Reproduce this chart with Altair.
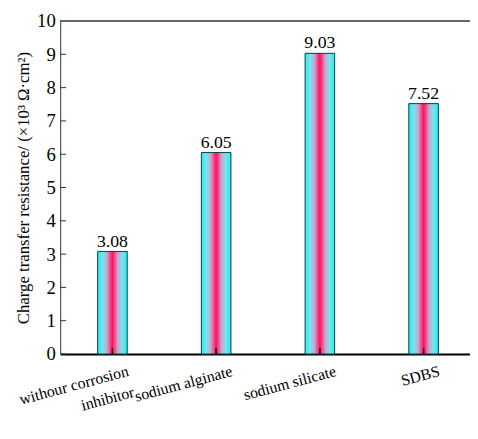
import altair as alt
import pandas as pd

categories = ["withour corrosion\ninhibitor", "sodium alginate", "sodium silicate", "SDBS"]
values = [3.08, 6.05, 9.03, 7.52]
y_ticks = [0, 1, 2, 3, 4, 5, 6, 7, 8, 9, 10]

W, H = 416, 338
FONT = "Liberation Serif"

df = pd.DataFrame({"cat": categories, "val": values})
ticks_df = pd.DataFrame({"t": y_ticks})

xscale = alt.Scale(paddingInner=0.715, paddingOuter=0.333, align=0.542)
yscale = alt.Scale(domain=[0, 10], nice=False, zero=True)

grad = alt.LinearGradient(
    gradient="linear",
    x1=0, x2=1, y1=0, y2=0,
    stops=[
        alt.GradientStop(offset=0.0, color="#1ff3f3"),
        alt.GradientStop(offset=0.18, color="#7fe0ee"),
        alt.GradientStop(offset=0.32, color="#c4a8cc"),
        alt.GradientStop(offset=0.42, color="#f04c8c"),
        alt.GradientStop(offset=0.5, color="#ff0f6a"),
        alt.GradientStop(offset=0.58, color="#f04c8c"),
        alt.GradientStop(offset=0.68, color="#c4a8cc"),
        alt.GradientStop(offset=0.82, color="#7fe0ee"),
        alt.GradientStop(offset=1.0, color="#1ff3f3"),
    ],
)

x_axis = alt.Axis(
    title=None,
    labelAngle=345,
    labelAlign="right",
    labelBaseline="top",
    labelExpr="split(datum.value, '\\n')",
    labelFont=FONT,
    labelFontSize=16,
    labelFontWeight="normal",
    labelColor="#000",
    labelPadding=9,
    labelOffset=14,
    labelLineHeight=22,
    labelOverlap=False,
    labelLimit=300,
    ticks=False,
    domainColor="#000",
    domainWidth=2,
)

y_axis = alt.Axis(
    title="Charge transfer resistance/ (×10³ Ω·cm²)",
    titleFont=FONT,
    titleFontSize=17,
    titleFontWeight="normal",
    titleColor="#000",
    titlePadding=4,
    values=y_ticks,
    labelOverlap=False,
    labelFont=FONT,
    labelFontSize=19,
    labelFontWeight="normal",
    labelColor="#000",
    labelPadding=5,
    ticks=False,
    grid=False,
    domainColor="#333",
    domainWidth=1,
)


def xe():
    return alt.X("cat:N", sort=None, scale=xscale, axis=x_axis)


bars = alt.Chart(df).mark_bar(color=grad, stroke="#0b3d3d", strokeWidth=1).encode(
    x=xe(), y=alt.Y("val:Q", scale=yscale, axis=y_axis)
)

text = alt.Chart(df).mark_text(
    baseline="bottom", dy=-1, font=FONT, fontSize=18, fontWeight="normal", color="#000"
).encode(
    x=xe(),
    y=alt.Y("val:Q", scale=yscale, axis=y_axis),
    text=alt.Text("val:Q", format=".2f"),
)

xticks = alt.Chart(df).mark_rule(color="#000", strokeWidth=1.5).encode(
    x=xe(),
    y=alt.value(H),
    y2=alt.value(H - 6),
)

yticks = alt.Chart(ticks_df).mark_rule(color="#333", strokeWidth=1).encode(
    y=alt.Y("t:Q", scale=yscale, axis=y_axis),
    x=alt.value(0),
    x2=alt.value(6),
)

top_line = alt.Chart(ticks_df).mark_rule(color="#666", strokeWidth=2).encode(
    x=alt.value(0), x2=alt.value(W), y=alt.value(0)
)

chart = alt.layer(bars, text, xticks, yticks, top_line).properties(
    width=W,
    height=H,
    autosize=alt.AutoSizeParams(type="none"),
    padding={"left": 53, "top": 10, "right": 0, "bottom": 80},
).configure(font=FONT).configure_view(stroke=None).configure_axis(
    labelFont=FONT, titleFont=FONT
).configure_text(font=FONT)

chart.save("out.html", embed_options={"renderer": "svg", "actions": False})
